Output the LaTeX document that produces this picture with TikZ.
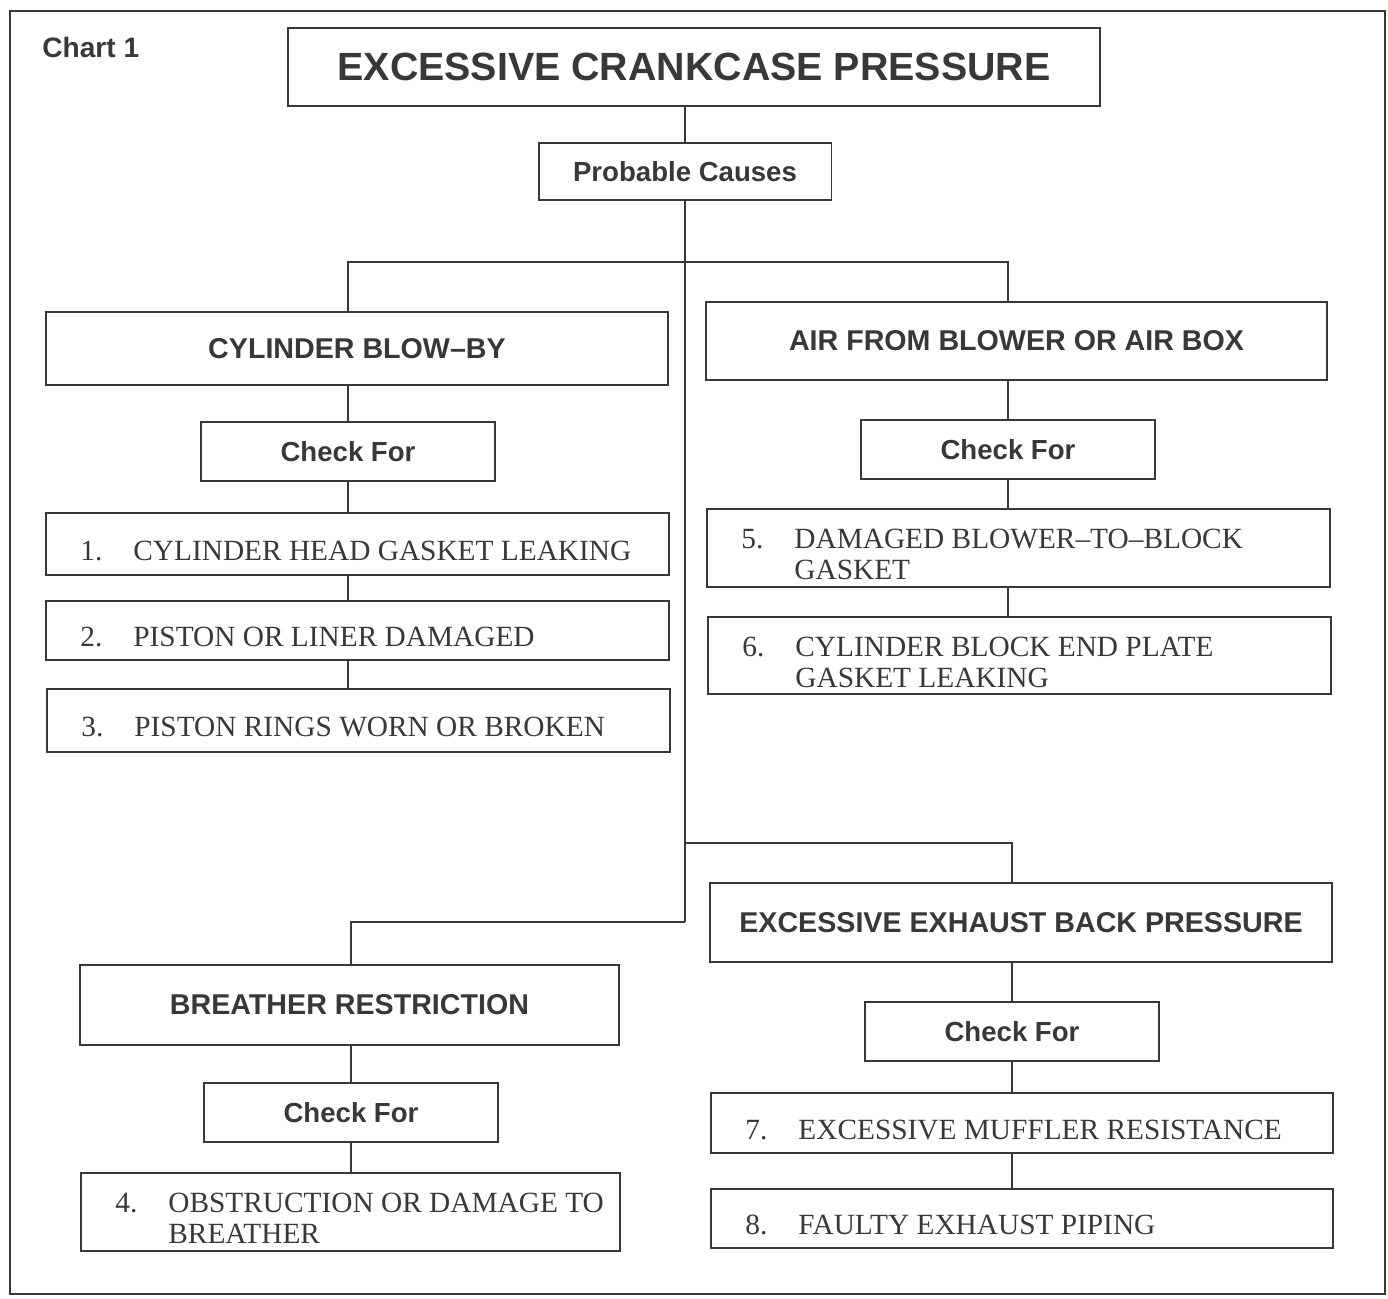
\documentclass[tikz,border=0pt]{standalone}
\usepackage{fontspec}
\setmainfont{Liberation Serif}
\newfontfamily\hfont{Liberation Sans}
\usetikzlibrary{positioning}
\definecolor{ink}{gray}{0.22}
\newcommand{\itm}[2]{\makebox[1.06cm][l]{#1}\begin{tabular}[t]{@{}l@{}}#2\end{tabular}}

\begin{document}
\begin{tikzpicture}[x=0.02cm,y=-0.02cm]
	\tikzstyle{every node}+=[inner sep=0pt, text=ink]
	\tikzstyle{box}=[draw=ink, line width=1.1pt, rectangle]
	\tikzstyle{head}=[box, font=\hfont\bfseries\fontsize{16.3}{18}\selectfont]
	\tikzstyle{check}=[box, minimum width=5.88cm, minimum height=1.18cm, font=\hfont\bfseries\fontsize{15.7}{18}\selectfont]
	\tikzstyle{item}=[box, minimum width=12.46cm]
	\tikzstyle{itemtext}=[anchor=west, inner xsep=0.7cm, yshift=-0.2cm, font=\fontsize{16.7}{17.5}\selectfont]
	\tikzstyle{link}=[draw=ink, line width=1.1pt]
	\useasboundingbox (0,0) rectangle (1388,1298);
	\draw[link] (10,11) rectangle (1385,1294);
	\node[anchor=west, font=\hfont\bfseries\fontsize{16}{18}\selectfont] (chart) at (42,47) {Chart 1};
	% top
	\node[box, minimum width=16.24cm, minimum height=1.56cm, font=\hfont\bfseries\fontsize{22.4}{26}\selectfont] (title) at (694,67) {EXCESSIVE CRANKCASE PRESSURE};
	\node[box, minimum width=5.86cm, minimum height=1.14cm, font=\hfont\bfseries\fontsize{15.7}{18}\selectfont] (causes) at (685,171.5) {Probable Causes};
	\coordinate (split1) at (685,262);
	\coordinate (split2) at (685,843);
	\coordinate (split3) at (685,922);
	% cylinder blow-by
	\node[head, minimum width=12.44cm, minimum height=1.46cm] (blowby) at (357,348.5) {CYLINDER BLOW–BY};
	\node[check] (check1) at (348,451.5) {Check For};
	\node[item, minimum height=1.24cm] (i1) at (357.5,544) {};
	\node[itemtext] (t1) at (i1.west) {\itm{1.}{CYLINDER HEAD GASKET LEAKING}};
	\node[item, minimum height=1.18cm] (i2) at (357.5,630.5) {};
	\node[itemtext] (t2) at (i2.west) {\itm{2.}{PISTON OR LINER DAMAGED}};
	\node[item, minimum height=1.26cm] (i3) at (358.5,720.5) {};
	\node[itemtext] (t3) at (i3.west) {\itm{3.}{PISTON RINGS WORN OR BROKEN}};
	% air from blower
	\node[head, minimum width=12.42cm, minimum height=1.56cm] (air) at (1016.5,341) {AIR FROM BLOWER OR AIR BOX};
	\node[check] (check2) at (1008,449.5) {Check For};
	\node[item, minimum height=1.56cm] (i5) at (1018.5,548) {};
	\node[itemtext] (t5) at (i5.west) {\itm{5.}{DAMAGED BLOWER–TO–BLOCK\\GASKET}};
	\node[item, minimum height=1.54cm] (i6) at (1019.5,655.5) {};
	\node[itemtext] (t6) at (i6.west) {\itm{6.}{CYLINDER BLOCK END PLATE\\GASKET LEAKING}};
	% exhaust
	\node[head, minimum width=12.44cm, minimum height=1.58cm] (exhaust) at (1021,922.5) {EXCESSIVE EXHAUST BACK PRESSURE};
	\node[check] (check4) at (1012,1031.5) {Check For};
	\node[item, minimum width=12.44cm, minimum height=1.2cm] (i7) at (1022,1123) {};
	\node[itemtext] (t7) at (i7.west) {\itm{7.}{EXCESSIVE MUFFLER RESISTANCE}};
	\node[item, minimum width=12.44cm, minimum height=1.18cm] (i8) at (1022,1218.5) {};
	\node[itemtext] (t8) at (i8.west) {\itm{8.}{FAULTY EXHAUST PIPING}};
	% breather
	\node[head, minimum width=10.78cm, minimum height=1.6cm] (breather) at (349.5,1005) {BREATHER RESTRICTION};
	\node[check] (check3) at (351,1112.5) {Check For};
	\node[item, minimum width=10.78cm, minimum height=1.56cm] (i4) at (350.5,1212) {};
	\node[itemtext] (t4) at (i4.west) {\itm{4.}{OBSTRUCTION OR DAMAGE TO\\BREATHER}};
	% links
	\draw[link] (causes) -- (causes |- title.south);
	\draw[link] (causes) -- (split3);
	\draw[link] (check1 |- blowby.north) |- (split1) -| (check2 |- air.north);
	\draw[link] (split2) -| (check4 |- exhaust.north);
	\draw[link] (split3) -| (check3 |- breather.north);
	\foreach \a/\b in {blowby/check1, check1/i1, i1/i2, i2/i3}
		\draw[link] (check1 |- \a.south) -- (check1 |- \b.north);
	\foreach \a/\b in {air/check2, check2/i5, i5/i6}
		\draw[link] (check2 |- \a.south) -- (check2 |- \b.north);
	\foreach \a/\b in {exhaust/check4, check4/i7, i7/i8}
		\draw[link] (check4 |- \a.south) -- (check4 |- \b.north);
	\foreach \a/\b in {breather/check3, check3/i4}
		\draw[link] (check3 |- \a.south) -- (check3 |- \b.north);
\end{tikzpicture}
\end{document}
